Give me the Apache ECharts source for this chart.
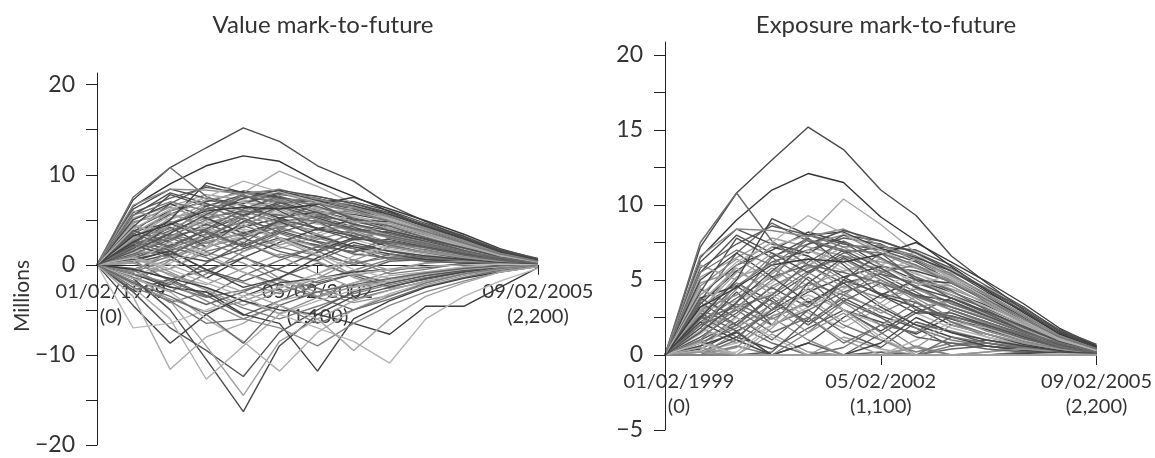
<!DOCTYPE html>
<html>
<head>
<meta charset="utf-8">
<script src="https://cdn.jsdelivr.net/npm/echarts@6/dist/echarts.min.js"></script>
<style>
html,body{margin:0;padding:0;background:#fff;}
#chart{width:1155px;height:458px;}
</style>
</head>
<body>
<div id="chart"></div>
<script>
// ---- DATA ----
// simulation dates (days from 01/02/1999)
var days = [0, 180, 365, 545, 730, 910, 1100, 1280, 1460, 1640, 1830, 2010, 2200];
var xTickDays = [0, 1100, 2200];
var xTickDates = ['01/02/1999', '05/02/2002', '09/02/2005'];
var xTickCounts = ['(0)', '(1,100)', '(2,200)'];
var valueTicks = [-20, -10, 0, 10, 20];
var exposureTicks = [-5, 0, 5, 10, 15, 20];

// value mark-to-future paths (millions)
var upperPaths = [
  [0, 7.2, 10.8, 13.0, 15.2, 13.7, 11.0, 9.3, 6.6, 4.8, 3.0, 1.6, 0.6],
  [0, 6.5, 9.0, 11.0, 12.1, 11.5, 9.2, 7.6, 5.9, 4.3, 2.8, 1.4, 0.5],
  [0, 3.0, 5.5, 7.2, 8.0, 10.4, 8.7, 6.8, 5.0, 3.6, 2.2, 1.0, 0.3],
  [0, 7.5, 10.8, 7.6, 6.0, 5.5, 4.8, 3.9, 3.2, 2.4, 1.5, 0.8, 0.2],
  [0, 3.2, 4.5, 6.0, 6.4, 6.2, 6.7, 7.5, 6.2, 4.9, 3.4, 1.8, 0.6],
  [0, 2.5, 5.0, 9.1, 8.0, 8.2, 7.1, 6.5, 5.6, 4.2, 2.9, 1.5, 0.5],
  [0, 6.6, 8.4, 8.3, 7.9, 8.4, 7.3, 6.4, 5.3, 4.1, 2.7, 1.3, 0.4],
  [0, 4.0, 6.2, 7.5, 9.3, 8.1, 7.0, 5.9, 5.1, 3.8, 2.3, 1.1, 0.3],
  [0, 1.5, 3.5, 5.6, 7.4, 8.3, 7.6, 6.8, 5.8, 4.4, 3.1, 1.7, 0.7],
  [0, 5.5, 7.0, 6.0, 7.7, 7.0, 6.8, 6.0, 4.8, 3.7, 2.4, 1.2, 0.4]
];
var lowerPaths = [
  [0, -1.5, -5.0, -10.5, -16.3, -9.0, -5.5, -3.5, -2.5, -1.5, -0.8, -0.3, 0],
  [0, -3.0, -7.0, -9.5, -12.4, -7.5, -5.0, -3.0, -2.0, -1.2, -0.6, -0.2, 0.1],
  [0, -1.0, -4.0, -9.0, -14.5, -8.5, -6.0, -4.0, -2.8, -1.8, -1.0, -0.5, 0],
  [0, -4.5, -8.7, -5.5, -3.5, -2.0, -1.5, -0.8, -0.5, -0.3, 0.1, 0.2, 0.1],
  [0, -3.5, -11.6, -8.0, -6.5, -4.0, -3.0, -2.0, -1.2, -0.8, -0.4, -0.2, 0],
  [0, -1.0, -2.5, -3.0, -5.5, -6.5, -11.8, -6.0, -4.0, -2.5, -1.5, -0.8, -0.2],
  [0, -0.5, -1.5, -2.5, -4.0, -5.0, -5.5, -6.5, -7.7, -4.6, -4.6, -2.5, -0.3],
  [0, 0.8, -0.5, -2.0, -3.5, -5.5, -7.0, -8.5, -10.9, -6.0, -3.5, -1.8, -0.4],
  [0, -2.5, -6.0, -12.7, -9.0, -5.5, -4.0, -2.8, -1.8, -1.0, -0.5, -0.2, 0],
  [0, -1.5, -3.0, -6.0, -8.5, -11.8, -7.5, -5.0, -3.2, -2.0, -1.0, -0.4, 0],
  [0, -2.0, -3.5, -5.5, -8.7, -4.5, -3.0, -2.2, -1.5, -0.9, -0.4, -0.1, 0.1],
  [0, -1.0, -2.0, -4.0, -6.0, -7.0, -9.0, -6.5, -4.5, -3.0, -1.8, -0.8, -0.2],
  [0, -7.0, -6.5, -5.0, -3.5, -2.5, -1.5, -1.0, -0.5, -0.2, 0, 0.1, 0],
  [0, -2.5, -4.0, -6.5, -6.0, -4.5, -6.5, -5.0, -3.5, -2.0, -1.0, -0.4, 0],
  [0, 0.5, 0.0, -1.5, -3.0, -4.5, -6.0, -9.5, -6.0, -3.5, -2.0, -0.8, -0.2]
];
var middlePaths = [
  [0, 1.2, 2.8, 4.5, 3.2, 5.0, 4.1, 3.5, 2.4, 1.8, 1.0, 0.4, 0.1],
  [0, -0.8, 1.5, 3.0, 5.5, 4.2, 2.8, 3.9, 3.0, 2.1, 1.2, 0.6, 0.2],
  [0, 2.2, 1.0, -1.5, 0.8, 2.5, 4.0, 3.2, 2.0, 1.4, 0.7, 0.3, 0],
  [0, 3.5, 5.8, 4.0, 2.5, 1.0, -1.0, -2.5, -1.8, -1.0, -0.3, 0.1, 0.1],
  [0, 0.5, -1.8, -3.5, -1.2, 0.5, 2.0, 1.5, 3.0, 2.2, 1.3, 0.6, 0.2],
  [0, 4.5, 3.0, 5.5, 7.0, 5.8, 4.5, 5.5, 4.2, 3.2, 2.0, 1.0, 0.3],
  [0, 1.8, 4.2, 2.0, 4.8, 6.5, 5.2, 4.0, 3.6, 2.6, 1.6, 0.7, 0.2],
  [0, -1.5, -3.0, -1.0, 1.5, 3.5, 2.0, 0.5, -1.0, -0.5, 0.2, 0.3, 0.1],
  [0, 2.8, 6.0, 7.5, 6.0, 4.5, 5.8, 4.5, 3.2, 2.5, 1.5, 0.8, 0.3],
  [0, 0.8, 2.0, 4.0, 6.2, 7.6, 6.5, 5.2, 4.3, 3.0, 1.8, 0.9, 0.3],
  [0, 3.8, 2.5, 1.0, 3.0, 1.5, 0.5, 2.2, 1.5, 0.8, 0.4, 0.1, 0],
  [0, -2.0, 0.5, 2.5, 1.0, -1.5, -3.5, -2.0, -0.8, 0.2, 0.5, 0.3, 0.1],
  [0, 5.0, 6.8, 5.2, 3.5, 4.8, 3.2, 2.0, 1.2, 0.6, 0.3, 0.1, 0],
  [0, 1.0, -0.5, 1.8, 3.8, 2.2, 3.5, 5.0, 4.0, 2.8, 1.7, 0.8, 0.2],
  [0, 2.0, 3.5, 6.5, 5.0, 3.0, 1.5, 0.0, 1.2, 0.8, 0.5, 0.2, 0],
  [0, 0.3, 2.5, 1.2, -0.8, -2.5, -1.0, 1.0, 2.2, 1.8, 1.0, 0.5, 0.1],
  [0, 4.2, 7.8, 6.5, 7.8, 6.0, 4.0, 2.8, 2.8, 2.0, 1.2, 0.5, 0.1],
  [0, -0.5, 1.0, 3.5, 2.0, 4.0, 5.5, 6.0, 5.0, 3.5, 2.2, 1.1, 0.4],
  [0, 1.5, 4.8, 3.2, 1.5, 2.8, 1.0, -1.2, -0.5, 0.2, 0.4, 0.2, 0],
  [0, 2.6, 1.2, 3.0, 5.2, 3.6, 2.5, 1.2, 0.8, 0.4, 0.2, 0.1, 0],
  [0, -1.0, -2.2, 0.2, 2.4, 5.0, 6.8, 5.0, 3.8, 2.8, 1.6, 0.7, 0.2],
  [0, 3.0, 4.0, 5.8, 4.2, 6.4, 5.0, 3.8, 2.5, 1.6, 0.9, 0.4, 0.1],
  [0, 0.6, 1.5, -0.5, -2.5, -1.5, 0.8, 2.5, 1.5, 1.0, 0.6, 0.3, 0.1],
  [0, 6.0, 5.0, 6.8, 6.0, 7.2, 6.0, 4.8, 4.6, 3.4, 2.1, 1.0, 0.3],
  [0, 2.0, 3.0, 1.5, 2.5, 0.8, 2.0, 3.5, 2.2, 1.4, 0.8, 0.4, 0.1],
  [0, -1.2, 0.2, 2.0, 4.5, 3.0, 1.2, -0.5, -1.5, -0.8, -0.2, 0.1, 0],
  [0, 5.5, 8.0, 6.8, 5.5, 7.0, 5.8, 4.5, 3.8, 2.9, 1.9, 0.9, 0.3],
  [0, 1.0, 3.2, 5.0, 8.0, 7.2, 7.3, 6.6, 5.4, 4.0, 2.6, 1.3, 0.5],
  [0, 0.2, -1.0, -2.8, -4.5, -3.0, -1.5, 0.5, 2.0, 1.4, 0.8, 0.4, 0.1],
  [0, 3.5, 2.0, 3.8, 2.0, 3.6, 4.8, 3.0, 2.6, 1.9, 1.1, 0.5, 0.1]
];
var densePaths = [
  [0, 2.4, 4.6, 6.2, 7.0, 7.8, 7.4, 6.3, 5.2, 3.9, 2.5, 1.2, 0.4],
  [0, 5.2, 6.5, 7.8, 7.2, 6.6, 6.2, 5.8, 5.5, 4.5, 3.0, 1.5, 0.5],
  [0, 1.0, 2.2, 3.8, 5.4, 6.8, 7.2, 7.0, 6.0, 4.6, 3.2, 1.6, 0.6],
  [0, 3.6, 6.8, 8.8, 7.6, 6.9, 5.4, 4.8, 4.0, 3.1, 2.0, 0.9, 0.3],
  [0, 0.4, 1.6, 2.8, 4.2, 5.2, 5.9, 5.6, 4.9, 3.8, 2.6, 1.3, 0.4],
  [0, 2.9, 3.6, 4.8, 6.6, 5.6, 6.0, 6.9, 5.7, 4.3, 2.8, 1.4, 0.5],
  [0, 4.8, 5.6, 4.4, 5.9, 7.6, 6.4, 5.1, 4.4, 3.5, 2.3, 1.1, 0.3],
  [0, 1.8, 0.8, 2.6, 3.4, 4.6, 3.8, 4.4, 3.5, 2.6, 1.6, 0.8, 0.2],
  [0, -0.6, -2.4, -3.6, -2.8, -1.6, -2.6, -3.8, -2.8, -1.8, -1.0, -0.4, 0],
  [0, -1.8, -4.2, -3.0, -4.8, -6.0, -4.6, -3.2, -2.2, -1.4, -0.7, -0.3, 0],
  [0, -2.8, -1.6, -3.4, -5.6, -4.0, -2.2, -1.0, -2.0, -1.2, -0.6, -0.2, 0],
  [0, 0.9, -1.2, -2.2, -0.4, 1.2, 0.4, -1.4, -2.6, -2.0, -1.0, -0.4, 0],
  [0, 3.2, 4.8, 3.6, 2.2, 3.8, 2.6, 1.8, 0.6, 1.0, 0.6, 0.3, 0.1],
  [0, 2.2, 3.8, 5.2, 6.0, 4.8, 5.4, 4.2, 3.0, 2.2, 1.4, 0.6, 0.2],
  [0, 4.0, 6.0, 7.0, 8.2, 7.5, 6.0, 5.0, 4.2, 3.3, 2.2, 1.0, 0.4],
  [0, 1.4, 3.0, 4.2, 2.8, 1.8, 3.2, 4.6, 5.4, 4.0, 2.6, 1.2, 0.4],
  [0, -1.2, -0.4, 1.4, 0.2, -1.8, -3.0, -4.2, -3.4, -2.2, -1.2, -0.5, -0.1],
  [0, 0.6, 2.6, 4.6, 5.8, 6.4, 5.0, 3.6, 2.2, 1.2, 0.6, 0.3, 0.1],
  [0, 3.0, 2.0, 0.8, -0.8, -2.2, -3.6, -5.0, -3.8, -2.4, -1.4, -0.6, -0.1],
  [0, 1.6, 3.4, 2.4, 3.6, 2.0, 1.0, 0.2, 0.8, 0.6, 0.3, 0.1, 0],
  [0, 5.8, 7.4, 8.6, 8.0, 7.4, 7.0, 6.2, 5.0, 3.8, 2.4, 1.2, 0.4],
  [0, 2.6, 5.2, 6.0, 4.6, 5.6, 6.4, 5.4, 4.6, 3.4, 2.1, 1.0, 0.3],
  [0, 0.2, 1.2, 0.4, 1.8, 3.0, 2.2, 1.4, 2.6, 2.0, 1.3, 0.6, 0.2],
  [0, -0.4, -1.6, -0.6, 0.8, -0.6, -2.0, -1.0, 0.4, 0.6, 0.4, 0.2, 0],
  [0, 3.4, 5.6, 7.2, 6.6, 5.2, 4.0, 5.0, 4.8, 3.6, 2.3, 1.1, 0.4],
  [0, 1.2, 2.0, 3.0, 4.0, 3.0, 2.0, 2.8, 1.8, 1.2, 0.7, 0.3, 0.1],
  [0, -2.2, -3.8, -5.2, -4.0, -5.4, -3.6, -2.4, -1.6, -1.0, -0.5, -0.2, 0],
  [0, 2.0, 4.4, 6.6, 7.4, 8.0, 6.8, 5.8, 4.9, 3.7, 2.4, 1.2, 0.4],
  [0, 4.4, 3.2, 2.0, 3.0, 4.2, 5.0, 4.0, 3.2, 2.4, 1.5, 0.7, 0.2],
  [0, 0.8, 1.8, 3.4, 4.8, 4.0, 3.0, 1.8, 1.0, 0.6, 0.3, 0.1, 0],
  [0, 2.8, 1.6, -0.6, -1.8, -0.4, 1.4, 2.8, 3.8, 2.8, 1.8, 0.9, 0.3],
  [0, 1.6, 3.0, 5.4, 7.0, 6.2, 4.6, 3.2, 3.6, 2.7, 1.7, 0.8, 0.2],
  [0, 6.2, 8.4, 7.4, 6.8, 8.0, 7.6, 6.8, 5.6, 4.4, 2.9, 1.4, 0.5],
  [0, -1.4, -2.8, -4.4, -3.0, -1.4, 0.2, -1.2, -2.4, -1.6, -0.8, -0.3, 0],
  [0, 3.8, 4.6, 3.0, 4.4, 3.0, 1.6, 3.0, 2.4, 1.7, 1.0, 0.5, 0.1],
  [0, 0.2, 0.8, 2.0, 3.2, 4.4, 5.6, 6.4, 5.2, 4.0, 2.6, 1.3, 0.4],
  [0, 1.0, -0.8, -2.6, -4.0, -2.6, -1.0, 0.6, -0.6, -0.2, 0.1, 0.1, 0],
  [0, 4.6, 6.4, 5.0, 6.4, 5.0, 3.4, 2.0, 1.6, 1.0, 0.5, 0.2, 0],
  [0, 2.4, 3.2, 4.0, 5.6, 6.6, 5.6, 4.6, 3.4, 2.6, 1.6, 0.8, 0.2],
  [0, -0.8, 0.6, -0.8, -2.0, -3.2, -1.8, -0.6, 0.6, 0.8, 0.5, 0.2, 0]
];

// ---- STYLES (kept apart from data) ----
var upperShades = ['#4a4a4a', '#333333', '#a8a8a8', '#6a6a6a', '#3a3a3a', '#444444', '#888888', '#b0b0b0', '#505050', '#777777'];
var lowerShades = ['#4a4a4a', '#555555', '#a0a0a0', '#444444', '#aaaaaa', '#3e3e3e', '#3a3a3a', '#b5b5b5', '#b0b0b0', '#b0b0b0', '#666666', '#888888', '#bbbbbb', '#777777', '#a5a5a5'];
var cyclePalette = ['#5a5a5a', '#8a8a8a', '#444444', '#a0a0a0', '#6e6e6e', '#b4b4b4', '#505050', '#7c7c7c', '#959595', '#626262'];

var FONT = 'Lato, "Open Sans", sans-serif';
var TXT = '#333';

var allPaths = [], allShades = [];
densePaths.forEach(function (p, i) { allPaths.push(p); allShades.push(cyclePalette[(i * 3) % cyclePalette.length]); });
middlePaths.forEach(function (p, i) { allPaths.push(p); allShades.push(cyclePalette[i % cyclePalette.length]); });
lowerPaths.forEach(function (p, i) { allPaths.push(p); allShades.push(lowerShades[i]); });
upperPaths.forEach(function (p, i) { allPaths.push(p); allShades.push(upperShades[i]); });

function toPairs(path, exposure) {
  return path.map(function (v, i) {
    // exposure mark-to-future = positive part of the value
    return [days[i], exposure ? Math.max(0, v) : v];
  });
}

var series = [];
allPaths.forEach(function (p, i) {
  [0, 1].forEach(function (k) {
    series.push({
      type: 'line',
      xAxisIndex: k, yAxisIndex: k,
      data: toPairs(p, k === 1),
      showSymbol: false,
      silent: true,
      lineStyle: { color: allShades[i], width: 1.4 },
      z: 3
    });
  });
});

function minusFmt(v) { return String(v).replace('-', '\u2212'); }

// grid geometry
var G = [
  { left: 97, top: 73, width: 441, height: 372, ymin: -20, ymax: 21.3 },
  { left: 665, top: 42, width: 432, height: 388, ymin: -5, ymax: 20.87 }
];

function xAxisCfg(gi) {
  var g = G[gi];
  // shift the x axis up so that it sits on y = 0
  var zeroOffset = -g.height * (0 - g.ymin) / (g.ymax - g.ymin);
  var lbl = { fontFamily: FONT, fontSize: 20, color: TXT, lineHeight: 25 };
  return {
    type: 'value', gridIndex: gi, min: 0, max: 2200, position: 'bottom',
    offset: zeroOffset,
    splitLine: { show: false },
    axisLine: { onZero: false, lineStyle: { color: '#222', width: 1 } },
    axisTick: { show: true, inside: false, length: 10, customValues: [1100, 2200], lineStyle: { color: '#222' } },
    axisLabel: {
      customValues: xTickDays, margin: 14, showMinLabel: true, showMaxLabel: true,
      formatter: function (v) {
        var i = xTickDays.indexOf(v);
        if (i < 0) return '';
        var s = i === 0 ? 'c' : 'b';
        return '{' + s + '|' + xTickDates[i] + '}\n{' + s + '|' + xTickCounts[i] + '}';
      },
      rich: {
        b: lbl,
        c: Object.assign({}, lbl, { padding: [0, 0, 0, 28] })
      }
    },
    z: 1
  };
}

function yAxisCfg(gi, labels, ticks) {
  var g = G[gi];
  return {
    type: 'value', gridIndex: gi, min: g.ymin, max: g.ymax,
    splitLine: { show: false },
    axisLine: { show: true, onZero: false, lineStyle: { color: '#222', width: 1 } },
    axisTick: { show: true, length: 11, customValues: ticks, lineStyle: { color: '#222' } },
    axisLabel: {
      customValues: labels, margin: 22, fontFamily: FONT, fontSize: 23, color: TXT,
      formatter: minusFmt
    },
    z: 5
  };
}

var chart = echarts.init(document.getElementById('chart'), null, { renderer: 'canvas' });
chart.setOption({
  animation: false,
  backgroundColor: '#fff',
  title: [
    { text: 'Value mark-to-future', left: 318, top: 8, textAlign: 'center',
      textStyle: { fontFamily: FONT, fontSize: 24, fontWeight: 'normal', color: TXT } },
    { text: 'Exposure mark-to-future', left: 881, top: 8, textAlign: 'center',
      textStyle: { fontFamily: FONT, fontSize: 24, fontWeight: 'normal', color: TXT } }
  ],
  graphic: [{
    type: 'text', x: 22, y: 296, rotation: Math.PI / 2,
    style: { text: 'Millions', fontFamily: FONT, fontSize: 21, fill: TXT, align: 'center', verticalAlign: 'middle' }
  }],
  grid: G.map(function (g) { return { left: g.left, top: g.top, width: g.width, height: g.height, containLabel: false }; }),
  xAxis: [xAxisCfg(0), xAxisCfg(1)],
  yAxis: [
    yAxisCfg(0, valueTicks, [-20, -15, -10, -5, 0, 5, 10, 15, 20]),
    yAxisCfg(1, exposureTicks, [-5, 0, 2.5, 5, 7.5, 10, 12.5, 15, 17.5, 20])
  ],
  series: series
});
</script>
</body>
</html>
